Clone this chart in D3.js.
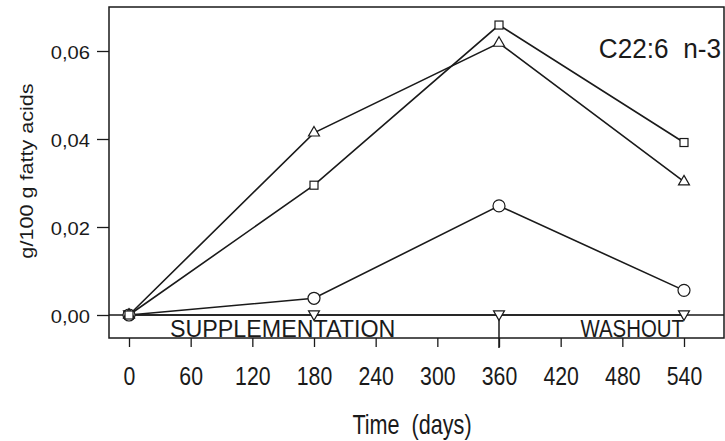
<!DOCTYPE html>
<html>
<head>
<meta charset="utf-8">
<script src="https://cdn.jsdelivr.net/npm/d3@7"></script>
<style>
  html, body { margin: 0; padding: 0; background: #fff; }
  svg { display: block; }
  text { font-family: "Liberation Sans", Arial, Helvetica, sans-serif; fill: #1a1a1a; }
</style>
</head>
<body>
<svg id="chart" width="725" height="441"></svg>
<script>
// ---- data ----
const days = [0, 180, 360, 540];
const squareSeries   = [0, 0.0295, 0.0659, 0.0392];
const triUpSeries    = [0, 0.0414, 0.0618, 0.0303];
const circleSeries   = [0, 0.0038, 0.0248, 0.0056];
const triDownSeries  = [0, 0, 0, 0];
const xTicks = [0, 60, 120, 180, 240, 300, 360, 420, 480, 540];
const yTicks = [0, 0.02, 0.04, 0.06];
const title = "C22:6  n-3";
const xLabel = "Time  (days)";
const yLabel = "g/100 g fatty acids";
const phaseLabels = ["SUPPLEMENTATION", "WASHOUT"];

// ---- layout ----
const frame = {left: 109, right: 724, top: 7, bottom: 338};
const ink = "#1a1a1a";
const svg = d3.select("#chart");

const x = d3.scaleLinear().domain([0, 540]).range([129, 684]);
const y = d3.scaleLinear().domain([0, 0.06]).range([315, 51]);

// frame
svg.append("rect")
  .attr("x", frame.left).attr("y", frame.top)
  .attr("width", frame.right - frame.left).attr("height", frame.bottom - frame.top)
  .attr("fill", "none").attr("stroke", ink).attr("stroke-width", 1.5);

// zero line
svg.append("line")
  .attr("x1", frame.left).attr("x2", frame.right)
  .attr("y1", y(0)).attr("y2", y(0))
  .attr("stroke", ink).attr("stroke-width", 1.5);

// divider at 360 days
svg.append("line")
  .attr("x1", x(360)).attr("x2", x(360))
  .attr("y1", y(0) - 2).attr("y2", frame.bottom + 10)
  .attr("stroke", ink).attr("stroke-width", 1.5);

// x axis
const xAxis = svg.append("g")
  .attr("transform", `translate(0,${frame.bottom})`)
  .call(d3.axisBottom(x).tickValues(xTicks).tickSize(9).tickFormat(d3.format("d")));
xAxis.select(".domain").remove();
xAxis.selectAll(".tick line").attr("stroke", ink).attr("stroke-width", 1.3);
xAxis.selectAll(".tick text")
  .attr("y", 47).attr("dy", 0)
  .attr("font-size", 25)
  .attr("font-family", "Liberation Sans, Arial, sans-serif")
  .attr("fill", ink)
  .attr("transform", "scale(0.85,1)");

// y axis
const yFmt = v => d3.format(".2f")(v).replace(".", ",");
const yAxis = svg.append("g")
  .attr("transform", `translate(${frame.left},0)`)
  .call(d3.axisLeft(y).tickValues(yTicks).tickSize(12).tickFormat(yFmt));
yAxis.select(".domain").remove();
yAxis.selectAll(".tick line").attr("stroke", ink).attr("stroke-width", 1.3);
yAxis.selectAll(".tick text")
  .attr("x", -17).attr("y", 7).attr("dy", 0)
  .attr("font-size", 18)
  .attr("font-family", "Liberation Sans, Arial, sans-serif")
  .attr("fill", ink)
  .attr("transform", "scale(1.12,1)");

// phase labels
svg.append("text")
  .attr("transform", `translate(170,${frame.bottom - 1}) scale(0.97,1)`)
  .attr("font-size", 24)
  .text(phaseLabels[0]);
svg.append("text")
  .attr("transform", `translate(684,${frame.bottom - 1}) scale(0.85,1)`)
  .attr("text-anchor", "end")
  .attr("font-size", 24)
  .text(phaseLabels[1]);

// title
svg.append("text")
  .attr("transform", "translate(721,58) scale(0.97,1)")
  .attr("text-anchor", "end")
  .attr("font-size", 27)
  .style("white-space", "pre")
  .text(title);

// axis titles
svg.append("text")
  .attr("transform", "translate(412,434) scale(0.8,1)")
  .attr("text-anchor", "middle")
  .attr("font-size", 27)
  .style("white-space", "pre")
  .text(xLabel);
svg.append("text")
  .attr("transform", "translate(33,171) rotate(-90) scale(1.2,1)")
  .attr("text-anchor", "middle")
  .attr("font-size", 18)
  .text(yLabel);

// series
const series = [
  {name: "triDown", values: triDownSeries, shape: "triDown"},
  {name: "circle",  values: circleSeries,  shape: "circle"},
  {name: "triUp",   values: triUpSeries,   shape: "triUp"},
  {name: "square",  values: squareSeries,  shape: "square"}
];
const line = d3.line().x(d => x(d.day)).y(d => y(d.v));
series.forEach(s => {
  const pts = days.map((d, i) => ({day: d, v: s.values[i]}));
  svg.append("path").datum(pts)
    .attr("d", line).attr("fill", "none")
    .attr("stroke", ink).attr("stroke-width", 1.6);
});
const triUpSym = d3.symbol().type(d3.symbolTriangle).size(52)();
series.forEach(s => {
  const pts = days.map((d, i) => ({day: d, v: s.values[i]}));
  const g = svg.append("g");
  pts.forEach(p => {
    const cx = x(p.day), cy = y(p.v);
    if (s.shape === "circle") {
      g.append("circle").attr("cx", cx).attr("cy", cy).attr("r", 6)
        .attr("fill", "#fff").attr("stroke", ink).attr("stroke-width", 1.2);
    } else if (s.shape === "square") {
      g.append("rect").attr("x", cx - 4).attr("y", cy - 4).attr("width", 8).attr("height", 8)
        .attr("fill", "#fff").attr("stroke", ink).attr("stroke-width", 1.2);
    } else if (s.shape === "triUp") {
      g.append("path").attr("d", triUpSym)
        .attr("transform", `translate(${cx},${cy})`)
        .attr("fill", "#fff").attr("stroke", ink).attr("stroke-width", 1.2);
    } else {
      g.append("path").attr("d", triUpSym)
        .attr("transform", `translate(${cx},${cy - 1}) rotate(180)`)
        .attr("fill", "#fff").attr("stroke", ink).attr("stroke-width", 1.2);
    }
  });
});
</script>
</body>
</html>
